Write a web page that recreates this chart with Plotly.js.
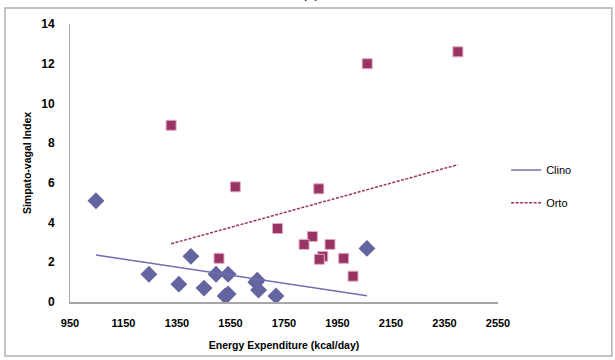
<!DOCTYPE html>
<html>
<head>
<meta charset="utf-8">
<script src="https://cdn.plot.ly/plotly-3.0.1.min.js"></script>
<style>html,body{margin:0;padding:0;background:#fff;}#chart{width:615px;height:360px;}</style>
</head>
<body>
<div id="chart"></div>
<script>
// Clino (diamonds)
const clinoX = [1047, 1245, 1357, 1402, 1451, 1496, 1541, 1530, 1541, 1650, 1645, 1655, 1720, 2060];
const clinoY = [5.1, 1.4, 0.9, 2.3, 0.7, 1.4, 1.4, 0.3, 0.4, 1.1, 1.0, 0.6, 0.3, 2.7];
// Orto (squares)
const ortoX = [1328, 1568, 1507, 1726, 1856, 1825, 1922, 1895, 1882, 1973, 2008, 1880, 2061, 2400];
const ortoY = [8.9, 5.8, 2.2, 3.7, 3.3, 2.9, 2.9, 2.3, 2.15, 2.2, 1.3, 5.7, 12.0, 12.6];
const xTicks = [950, 1150, 1350, 1550, 1750, 1950, 2150, 2350, 2550];
const yTicks = [0, 2, 4, 6, 8, 10, 12, 14];
const seriesNames = ['Clino', 'Orto'];

function linFit(xs, ys) {
  const n = xs.length;
  const mx = xs.reduce((a, b) => a + b, 0) / n;
  const my = ys.reduce((a, b) => a + b, 0) / n;
  let sxy = 0, sxx = 0;
  for (let i = 0; i < n; i++) { sxy += (xs[i] - mx) * (ys[i] - my); sxx += (xs[i] - mx) ** 2; }
  const b = sxy / sxx, a = my - b * mx;
  const x0 = Math.min(...xs), x1 = Math.max(...xs);
  return { x: [x0, x1], y: [a + b * x0, a + b * x1] };
}
const fc = linFit(clinoX, clinoY);
const fo = linFit(ortoX, ortoY);

const font = 'Liberation Sans, Arial, sans-serif';
const traces = [
  { x: clinoX, y: clinoY, type: 'scatter', mode: 'markers', showlegend: false, hoverinfo: 'skip',
    marker: { symbol: 'diamond', size: 13, color: '#6464A0', line: { width: 0 } } },
  { x: ortoX, y: ortoY, type: 'scatter', mode: 'markers', showlegend: false, hoverinfo: 'skip',
    marker: { symbol: 'square', size: 10, color: '#973462', line: { width: 1, color: '#e2aac4' } } },
  { x: fc.x, y: fc.y, type: 'scatter', mode: 'lines', name: seriesNames[0], legend: 'legend',
    line: { color: '#6F6FB0', width: 1.5 } },
  { x: fo.x, y: fo.y, type: 'scatter', mode: 'lines', name: seriesNames[1], legend: 'legend2',
    line: { color: '#993366', width: 1.5, dash: '3px,1.5px' } }
];

const layout = {
  width: 615, height: 360,
  margin: { l: 70, r: 117, t: 24, b: 58 },
  paper_bgcolor: '#ffffff', plot_bgcolor: '#ffffff',
  font: { family: font, color: '#000' },
  xaxis: {
    range: [950, 2550], tickvals: xTicks, ticktext: xTicks.map(String),
    showgrid: false, zeroline: false, showline: true, linecolor: '#a6a6a6', linewidth: 2,
    ticks: '', ticklabelstandoff: 10,
    tickfont: { family: font, size: 11, color: '#000', weight: 'bold' },
    title: { text: 'Energy Expenditure (kcal/day)', standoff: 13,
             font: { family: font, size: 10.5, color: '#000', weight: 'bold' } }
  },
  yaxis: {
    range: [0, 14], tickvals: yTicks, ticktext: yTicks.map(String),
    showgrid: false, zeroline: false, showline: true, linecolor: '#a6a6a6', linewidth: 1,
    ticks: '', ticklabelstandoff: 12,
    tickfont: { family: font, size: 12, color: '#000', weight: 'bold' },
    title: { text: 'Simpato-vagal Index', standoff: 7,
             font: { family: font, size: 10.5, color: '#000', weight: 'bold' } }
  },
  legend: { x: 1.019, y: 0.475, xanchor: 'left', yanchor: 'middle', bgcolor: 'rgba(0,0,0,0)',
            itemwidth: 30, font: { family: font, size: 11, color: '#000' } },
  legend2: { x: 1.019, y: 0.357, xanchor: 'left', yanchor: 'middle', bgcolor: 'rgba(0,0,0,0)',
             itemwidth: 30, font: { family: font, size: 11, color: '#000' } },
  shapes: [
    { type: 'rect', xref: 'paper', yref: 'paper', x0: -0.152, x1: 1.266, y0: -0.194, y1: 1.0576,
      line: { color: '#b0b0b0', width: 1.5 }, fillcolor: 'rgba(0,0,0,0)' }
  ],
  annotations: [
    { text: '(b)', xref: 'paper', yref: 'paper', x: 0.561, y: 1.075, xanchor: 'center', yanchor: 'bottom',
      showarrow: false, font: { family: font, size: 14, color: '#000' } }
  ]
};

Plotly.newPlot('chart', traces, layout, { displayModeBar: false, staticPlot: true });
</script>
</body>
</html>
